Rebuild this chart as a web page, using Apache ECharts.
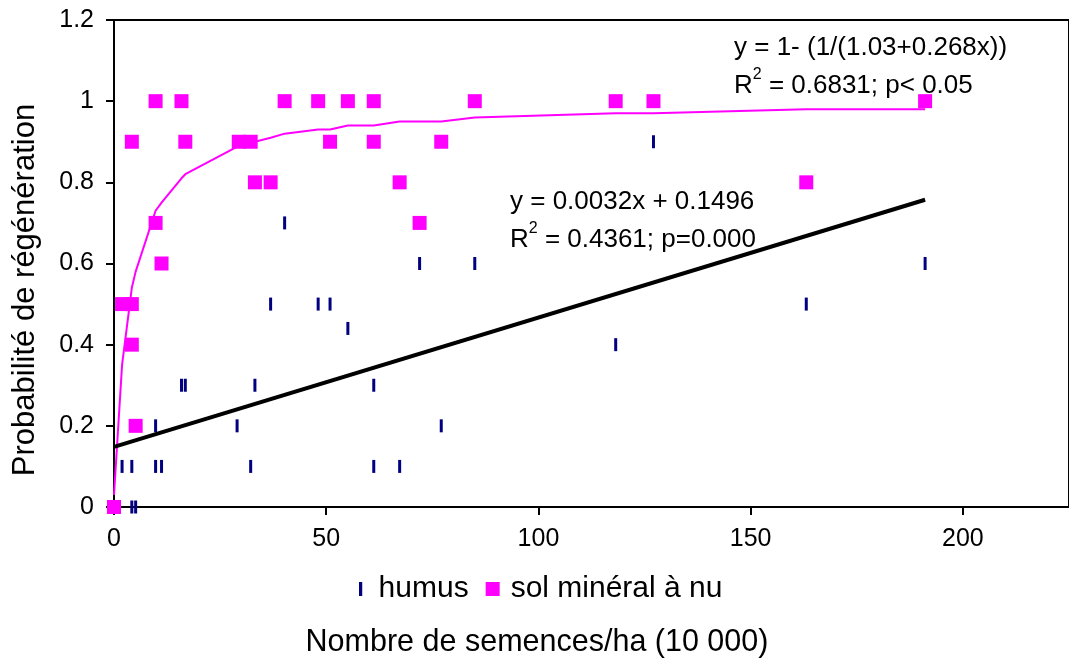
<!DOCTYPE html>
<html>
<head>
<meta charset="utf-8">
<script src="https://cdn.jsdelivr.net/npm/echarts@6/dist/echarts.min.js"></script>
<style>
  html, body { margin: 0; padding: 0; background: #fff; }
  #myChart { width: 1069px; height: 658px; }
</style>
</head>
<body>
<div id="myChart"></div>
<script>
// valeurs
const seedsSol = [0, 1.9, 4.2, 4.2, 4.2, 5.1, 9.8, 9.8, 11.2, 15.9, 16.8, 29.4, 32.2, 33.2, 36.9, 40.2, 48.1, 50.9, 55.1, 61.2, 61.2, 67.3, 72, 77.1, 85, 118.2, 127.1, 163.1, 191.1];
const probSol  = [0, 0.5, 0.5, 0.9, 0.4, 0.2, 1, 0.7, 0.6, 1, 0.9, 0.9, 0.9, 0.8, 0.8, 1, 1, 0.9, 1, 1, 0.9, 0.8, 0.7, 0.9, 1, 1, 1, 0.8, 1];

const seedsHumus = [4.2, 5.1, 1.9, 4.2, 9.8, 11.2, 32.2, 61.2, 67.3, 9.8, 29, 77.1, 15.9, 16.8, 33.2, 61.2, 118.2, 55.1, 36.9, 48.1, 50.9, 163.1, 72, 85, 191.1, 40.2, 127.1];
const probHumus  = [0, 0, 0.1, 0.1, 0.1, 0.1, 0.1, 0.1, 0.1, 0.2, 0.2, 0.2, 0.3, 0.3, 0.3, 0.3, 0.4, 0.44, 0.5, 0.5, 0.5, 0.5, 0.6, 0.6, 0.6, 0.7, 0.9];

// courbe ajustée (sol minéral) et droite (humus)
const fitX = [0, 1.9, 4.2, 5.1, 9.8, 11.2, 15.9, 16.8, 29.4, 32.2, 33.2, 36.9, 40.2, 48.1, 50.9, 55.1, 61.2, 67.3, 72, 77.1, 85, 118.2, 127.1, 163.1, 191.1];
const fitY = [0.03, 0.35, 0.54, 0.58, 0.73, 0.75, 0.81, 0.82, 0.89, 0.90, 0.90, 0.91, 0.92, 0.93, 0.93, 0.94, 0.94, 0.95, 0.95, 0.95, 0.96, 0.97, 0.97, 0.98, 0.98];
const linX = [0, 191.1];
const linY = [0.148, 0.757];

const xTicks = [0, 50, 100, 150, 200];

const FONT = 'Liberation Sans, Arial, sans-serif';

function pairs(xs, ys) {
    return xs.map((x, i) => [x, ys[i]]);
}

var myChart = echarts.init(document.getElementById('myChart'), null, {renderer: 'canvas'});

myChart.setOption({
    animation: false,
    backgroundColor: '#fff',
    grid: {
        left: 114, top: 20, right: -8, bottom: 151,
        show: true, borderColor: '#000', borderWidth: 2
    },
    xAxis: {
        type: 'value', min: 0, max: 225, interval: 50,
        axisLine: {lineStyle: {color: '#000', width: 2}},
        axisTick: {length: 8, lineStyle: {color: '#000', width: 2}},
        splitLine: {show: false},
        axisLabel: {
            color: '#000', fontSize: 25, fontFamily: FONT, margin: 20,
            showMaxLabel: false,
            formatter: v => xTicks.indexOf(v) >= 0 ? String(v) : ''
        }
    },
    yAxis: {
        type: 'value', min: 0, max: 1.2, interval: 0.2,
        axisLine: {show: true, lineStyle: {color: '#000', width: 2}},
        axisTick: {show: true, length: 8, lineStyle: {color: '#000', width: 2}},
        splitLine: {show: false},
        axisLabel: {color: '#000', fontSize: 25, fontFamily: FONT, margin: 20}
    },
    legend: {
        left: 354, top: 569,
        itemWidth: 26, itemHeight: 14, itemGap: 17,
        textStyle: {color: '#000', fontSize: 30, fontFamily: FONT},
        data: [
            {name: 'humus', icon: 'path://M0,0h3v13h-3z'},
            {name: 'sol minéral à nu', icon: 'path://M0,0h14v14h-14z'}
        ]
    },
    graphic: [
        {
            type: 'text', x: 537, y: 643,
            style: {text: 'Nombre de semences/ha (10 000)', fontSize: 30.5, fontFamily: FONT,
                fill: '#000', align: 'center', verticalAlign: 'middle'}
        },
        {
            type: 'text', x: 25, y: 290, rotation: Math.PI / 2,
            style: {text: 'Probabilité de régénération', fontSize: 31, fontFamily: FONT,
                fill: '#000', align: 'center', verticalAlign: 'middle'}
        },
        {
            type: 'text', x: 734, y: 67,
            style: {
                text: 'y = 1- (1/(1.03+0.268x))\nR{sup|2} = 0.6831; p< 0.05',
                fontSize: 26, fontFamily: FONT, fill: '#000', lineHeight: 38,
                align: 'left', verticalAlign: 'middle',
                rich: {sup: {fontSize: 16, fontFamily: FONT, verticalAlign: 'top', padding: [0, 0, 12, 0]}}
            }
        },
        {
            type: 'text', x: 510, y: 221,
            style: {
                text: 'y = 0.0032x + 0.1496\nR{sup|2} = 0.4361; p=0.000',
                fontSize: 26, fontFamily: FONT, fill: '#000', lineHeight: 38,
                align: 'left', verticalAlign: 'middle',
                rich: {sup: {fontSize: 16, fontFamily: FONT, verticalAlign: 'top', padding: [0, 0, 12, 0]}}
            }
        }
    ],
    series: [
        {
            name: 'humus', type: 'scatter', clip: false,
            symbol: 'rect', symbolSize: [3, 13],
            itemStyle: {color: '#000080', opacity: 1},
            data: pairs(seedsHumus, probHumus)
        },
        {
            name: 'sol minéral à nu', type: 'scatter', clip: false,
            symbol: 'rect', symbolSize: 14,
            itemStyle: {color: '#FF00FF', opacity: 1},
            data: pairs(seedsSol, probSol)
        },
        {
            name: 'courbe', type: 'line', showSymbol: false, symbol: 'none',
            lineStyle: {color: '#FF00FF', width: 2},
            data: pairs(fitX, fitY)
        },
        {
            name: 'droite', type: 'line', showSymbol: false, symbol: 'none',
            lineStyle: {color: '#000', width: 4},
            data: pairs(linX, linY)
        }
    ]
});
</script>
</body>
</html>
